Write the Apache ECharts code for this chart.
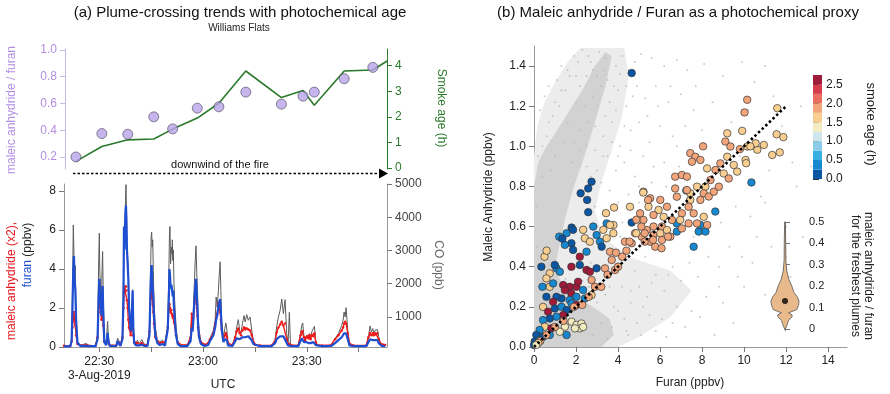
<!DOCTYPE html>
<html><head><meta charset="utf-8">
<script src="https://cdn.jsdelivr.net/npm/echarts@6/dist/echarts.min.js"></script>
<style>html,body{margin:0;padding:0;background:#fff}#c{width:890px;height:394px}</style>
</head><body><div id="c"></div>
<script>
// ---------- Panel (a) top: plume crossings ----------
const crossTime = [22.97,30.49,38.01,45.54,51.03,58.18,64.43,72.24,82.57,88.84,92.11,100.79,109.09];
const crossRatio = [0.20,0.375,0.37,0.50,0.41,0.565,0.575,0.685,0.595,0.655,0.685,0.785,0.87];
const ageTime = [22.97,30.49,38.01,45.54,51.03,58.18,64.43,72.24,82.57,88.84,92.11,100.79,109.09,113.23];
const smokeAge = [0.26,0.84,1.10,1.13,1.52,1.95,2.53,3.79,2.75,3.03,2.45,3.79,3.83,4.18];
const ratioTicks = [0.2,0.4,0.6,0.8,1.0];
const ageTicks = [0,1,2,3,4];

// ---------- Panel (a) bottom: time series (minutes after 22:00 UTC) ----------
const tsMinutes = [19.8,21.6,22.0,22.25,22.49,22.68,22.85,23.06,23.3,23.7,24.6,26.2,27.3,28.9,29.5,29.8,30.01,30.15,30.35,30.6,30.8,30.97,31.15,31.45,32.0,32.3,32.42,32.6,33.0,34.9,35.3,35.7,36.1,36.7,37.0,37.14,37.3,37.45,37.6,37.72,37.86,38.0,38.2,38.4,38.6,38.85,39.1,39.4,39.65,39.85,40.1,40.6,41.0,41.6,42.3,43.0,43.9,44.5,44.86,45.0,45.15,45.3,45.45,45.62,45.82,46.2,46.8,47.5,48.3,49.0,49.8,50.16,50.3,50.45,50.62,50.84,51.0,51.13,51.25,51.41,51.6,51.8,52.2,52.7,53.5,55.5,56.4,56.72,57.0,57.2,57.5,57.7,57.97,58.2,58.4,58.6,58.85,59.4,60.5,61.5,62.0,63.0,63.5,63.8,64.1,64.45,64.65,64.95,65.15,65.4,65.9,66.3,66.6,66.9,67.25,68.5,69.3,69.74,70.2,70.6,71.0,71.4,71.86,72.2,72.63,73.1,73.6,74.08,74.56,75.1,76.5,79.8,80.83,81.3,81.8,82.3,82.76,83.24,83.72,84.21,84.6,84.97,85.3,87.5,88.2,88.55,88.83,89.2,89.51,89.9,90.18,90.5,90.76,91.1,91.44,91.9,92.21,92.6,92.9,94.5,97.0,98.19,99.15,100.12,100.5,100.79,101.1,101.37,101.85,102.34,103.5,107.2,107.83,108.31,108.7,109.09,109.4,109.76,110.1,110.44,110.8,111.21,111.7,112.17,112.65];
const coPpb = [110,120,300,1800,3770,2900,2200,2550,1000,260,150,200,130,130,400,2500,3520,2400,1900,1300,2400,2970,1600,300,200,700,870,450,150,140,360,280,150,400,2200,3720,3200,3900,4500,4980,4200,3000,2800,2400,1500,1100,600,1200,1820,800,300,200,300,200,320,180,150,500,2500,3400,3550,3100,3320,2400,1500,700,300,250,300,200,700,2600,3500,3720,2600,3100,2900,3320,2700,3020,2000,1500,700,250,150,150,400,960,700,1200,2000,2600,3140,2300,1800,1000,600,250,150,200,350,600,900,1600,1300,1800,2200,2660,1800,900,350,650,820,600,200,150,400,700,920,600,500,800,1040,850,1070,900,1000,600,300,150,120,120,300,700,1000,1200,1540,1100,1520,500,200,1140,150,130,500,750,820,400,300,450,500,380,500,350,550,500,720,300,150,130,140,350,500,750,900,1150,1000,1280,600,200,130,130,400,730,550,650,500,600,550,620,400,250,140,150,130];
const furanPpbv = [0.03,0.03,0.3,2.0,4.0,4.67,3.4,3.0,1.4,0.2,0.05,0.06,0.04,0.04,0.4,2.4,3.5,2.8,2.6,1.6,2.6,3.13,1.8,0.25,0.1,0.5,0.72,0.35,0.06,0.05,0.3,0.2,0.05,0.4,2.5,6.17,5.0,6.2,7.0,7.25,6.5,5.0,4.3,3.5,2.0,1.9,0.8,1.6,2.9,0.9,0.2,0.08,0.15,0.08,0.12,0.06,0.05,0.6,3.2,4.0,4.2,3.5,3.0,2.6,1.6,0.6,0.2,0.1,0.15,0.08,0.9,2.8,4.0,3.7,3.0,3.2,3.0,2.9,2.6,2.9,2.0,1.5,0.6,0.15,0.05,0.05,0.3,1.0,0.8,1.4,2.4,3.0,3.5,2.6,1.9,1.0,0.5,0.15,0.05,0.1,0.3,0.6,1.0,1.4,1.6,2.1,2.3,2.45,1.8,0.9,0.25,0.4,0.45,0.35,0.08,0.05,0.3,0.45,0.55,0.4,0.35,0.5,0.6,0.5,0.6,0.55,0.5,0.35,0.15,0.05,0.04,0.04,0.2,0.4,0.5,0.55,0.6,0.55,0.55,0.2,0.08,0.08,0.05,0.04,0.3,0.45,0.54,0.25,0.2,0.25,0.3,0.2,0.3,0.2,0.3,0.25,0.3,0.1,0.05,0.04,0.05,0.2,0.35,0.5,0.6,0.7,0.76,0.7,0.4,0.08,0.04,0.04,0.25,0.4,0.3,0.35,0.3,0.35,0.4,0.35,0.2,0.1,0.05,0.05,0.04];
const maleicX2 = [0.06,0.06,0.3,1.0,1.6,1.8,1.3,1.1,0.6,0.15,0.08,0.1,0.06,0.07,0.5,1.8,2.25,2.0,2.2,1.4,1.6,1.9,1.1,0.3,0.15,0.35,0.4,0.25,0.1,0.08,0.25,0.2,0.1,0.5,2.0,2.8,3.0,2.9,3.1,3.1,2.9,2.4,2.0,1.4,1.0,0.9,0.6,1.0,1.2,0.6,0.25,0.15,0.2,0.12,0.2,0.1,0.1,0.8,2.5,3.1,3.0,2.6,2.2,1.8,1.2,0.5,0.3,0.2,0.25,0.2,1.0,2.0,2.2,2.0,1.8,1.9,1.7,1.6,1.5,1.6,1.3,1.2,0.6,0.25,0.12,0.1,0.5,1.7,1.0,1.5,2.2,2.6,2.4,2.0,1.6,1.0,0.6,0.25,0.12,0.2,0.4,0.7,1.2,1.5,1.7,2.25,2.0,1.8,1.4,0.9,0.4,0.6,0.72,0.5,0.2,0.1,0.5,0.8,0.95,0.7,0.6,0.85,1.0,0.9,0.95,0.9,0.85,0.6,0.25,0.12,0.08,0.08,0.3,0.75,1.0,1.15,1.3,1.1,1.2,0.4,0.15,0.15,0.1,0.08,0.6,0.8,0.8,0.5,0.35,0.5,0.55,0.45,0.6,0.4,0.6,0.55,0.7,0.25,0.12,0.08,0.1,0.4,0.6,0.85,1.0,1.2,1.3,1.2,0.7,0.18,0.08,0.08,0.5,0.72,0.6,0.7,0.6,0.7,0.65,0.7,0.4,0.2,0.1,0.12,0.1];
const timeTicks = [30,45,60,75,90,105];
const timeLabels = [30,60,90];
const concTicks = [0,2,4,6,8];
const coTicks = [1000,2000,3000,4000,5000];

// ---------- Panel (b): scatter ----------
// background 1 Hz data: outlines of the dense clouds and sparse points
const denseOuterX = [0,0,0.15,0.5,1.0,1.6,2.2,4.3,4.5,4.2,3.7,3.2,2.9,3.3,4.5,6.5,7.5,6.5,5.0,4.0];
const denseOuterY = [0,0.95,1.1,1.22,1.32,1.42,1.49,1.49,1.35,1.15,0.98,0.82,0.68,0.55,0.45,0.38,0.28,0.15,0.05,0];
const denseCoreX = [0,0,0.2,0.6,1.1,1.7,2.3,2.9,3.4,3.7,3.4,2.9,2.4,1.9,1.5,1.2,1.0,1.3,2.0,2.8,3.6,3.8,3.2];
const denseCoreY = [0,0.8,0.92,1.0,1.08,1.18,1.28,1.4,1.47,1.45,1.3,1.12,0.95,0.8,0.65,0.5,0.4,0.32,0.25,0.2,0.14,0.06,0];
const bgPoints = [[0.3,1.18],[0.5,1.25],[0.7,1.3],[0.9,1.15],[1.1,1.33],[1.3,1.4],[0.6,1.05],[1.5,1.28],[1.7,1.35],[1.9,1.45],[2.1,1.42],[2.3,1.48],[2.6,1.45],[2.8,1.38],[3.1,1.47],[3.4,1.44],[3.9,1.4],[4.2,1.45],[4.5,1.38],[4.8,1.42],[5.1,1.46],[5.6,1.44],[6.2,1.4],[6.8,1.43],[7.3,1.38],[8.1,1.41],[9.0,1.35],[10.5,1.32],[11.4,1.25],
[1.2,1.2],[1.6,1.12],[2.0,1.22],[2.4,1.2],[2.8,1.25],[3.2,1.3],[3.6,1.22],[4.0,1.28],[4.4,1.2],[4.9,1.3],[5.3,1.24],[5.8,1.3],[6.4,1.22],[7.0,1.26],[7.6,1.18],[8.5,1.22],
[2.9,1.1],[3.3,1.05],[3.7,1.12],[4.1,1.0],[4.6,1.08],[5.0,1.12],[5.5,1.02],[6.0,1.1],[6.6,1.05],[7.2,1.1],[8.0,1.08],[9.4,1.12],[10.2,1.18],[11.8,1.1],
[3.5,0.95],[3.9,0.88],[4.3,0.92],[4.8,0.85],[5.2,0.95],[5.7,0.9],[6.2,0.92],[3.2,0.82],[3.6,0.78],[4.0,0.72],[4.5,0.76],[5.0,0.8],[2.9,0.7],[3.3,0.68],[6.8,1.0],[9.8,0.95],[11.2,0.88],[12.3,0.92],[10.8,0.75],
[2.6,0.3],[3.0,0.22],[3.4,0.26],[3.8,0.2],[4.2,0.3],[4.6,0.22],[5.0,0.3],[5.4,0.25],[5.8,0.36],[6.2,0.28],[6.6,0.4],[7.0,0.33],[7.4,0.42],[7.8,0.35],[8.3,0.45],[8.8,0.4],[9.3,0.5],[9.9,0.45],[10.6,0.55],[11.3,0.5],
[3.2,0.12],[3.7,0.1],[4.3,0.14],[4.9,0.12],[5.5,0.16],[6.1,0.14],[6.8,0.2],[7.5,0.18],[8.2,0.25],[9.0,0.22],[10.0,0.3],[11.0,0.26],[12.2,0.35],
[2.8,0.06],[3.5,0.04],[4.5,0.06],[5.8,0.08],[7.2,0.1],[9.5,0.12],[11.6,0.16],[8.6,0.06],
[5.3,0.45],[6.0,0.5],[4.8,0.38],[7.6,0.55],[8.9,0.62],[9.6,0.7],[10.3,0.65],[11.0,0.72],[12.0,0.6],[12.5,0.8],
[1.0,0.95],[1.4,1.02],[0.8,0.88],[0.2,0.95],[0.4,0.85],[1.8,0.92],[2.2,0.98],[2.5,0.9],[0.1,0.7],[0.15,0.5],
[3.0,0.6],[3.4,0.55],[2.5,0.52],[2.0,0.4],[2.3,0.33],[2.7,0.42],[1.8,0.26],[1.5,0.34],
[0.4,1.0],[0.7,1.12],[1.0,1.22],[1.3,1.28],[1.6,1.38],[2.0,1.35],[2.2,1.3],[2.5,1.35],[2.7,1.42],[3.0,1.35],[3.3,1.38],[3.5,1.33],[3.8,1.3],[4.1,1.36],[4.4,1.3],[4.7,1.25],[3.0,1.2],[3.4,1.15],[3.9,1.18],[4.3,1.1],[2.6,1.12],[2.2,1.08],[1.9,1.02],[2.5,1.0],[2.9,0.98],[3.3,0.95],[2.7,0.85],[3.0,0.88],[3.7,1.02],[4.0,0.95],[4.6,0.98],[5.4,1.15],[5.9,1.2],[6.5,1.3],[7.7,1.3],[5.0,0.72],[5.6,0.82],[6.3,0.8],[6.9,0.9],[4.2,0.62],[3.9,0.7],[4.1,0.55],[6.6,0.12],[7.9,0.15],[8.8,0.3],[9.7,0.35],[10.4,0.42],[12.0,0.45],[12.8,0.55],[13.2,0.9],[12.7,1.2],[9.9,1.42],[11.0,1.4],[5.2,0.2],[4.0,0.18],[4.6,0.28],[5.6,0.32],[6.4,0.36],[3.6,0.3],[4.4,0.08],[5.1,0.06],[6.3,0.05]];
// plume-averaged points: [furan, maleic anhydride, smoke age (h)]
const plumePoints = [
[4.65,1.365,0.1],[2.74,0.824,0.1],[2.58,0.79,0.1],[2.22,0.766,0.1],[2.53,0.733,0.1],[2.58,0.672,0.1],
[4.65,0.62,0.1],[7.25,0.78,0.4],[8.63,0.675,0.4],[10.35,0.82,0.4],
[7.6,0.5,0.4],[7.84,0.575,0.4],[8.16,0.575,0.4],[7.92,0.608,0.4],[6.8,0.616,0.4],[6.8,0.575,0.4],[3.46,0.616,0.4],
[10.15,1.232,1.9],[10.02,1.169,1.9],[11.58,1.19,1.6],[9.91,1.077,1.6],[9.2,1.065,1.6],[11.55,1.06,1.6],[11.87,1.046,1.6],[11.7,0.97,1.6],[11.34,0.957,1.6],
[8.05,1.0,1.9],[7.44,0.966,1.9],[7.68,0.948,1.9],[7.92,0.932,1.9],[7.52,0.923,1.9],[9.11,1.024,1.9],[9.35,0.999,1.9],[9.2,0.948,1.6],[9.51,0.907,1.6],[8.87,0.915,1.9],[8.64,0.882,1.9],[9.03,0.865,1.6],[9.67,0.874,1.6],[9.27,0.84,1.9],[10.15,0.999,1.6],[10.63,0.983,1.6],[10.94,1.007,1.6],[10.55,1.015,1.6],[10.07,0.932,1.6],[10.3,1.0,1.6],[9.8,0.986,1.9],[10.1,0.916,1.6],
[8.24,0.89,1.6],[8.4,0.832,1.9],[8.16,0.799,1.6],[8.08,0.766,1.9],[8.32,0.75,1.9],[8.56,0.774,1.9],[8.8,0.799,1.9],[7.92,0.733,1.9],[7.44,0.766,1.6],[7.44,0.733,1.6],[7.76,0.799,1.6],[7.28,0.782,1.9],
[6.72,0.849,1.9],[7.04,0.857,1.9],[7.28,0.849,1.9],[6.72,0.79,1.9],[6.8,0.749,1.9],[7.36,0.699,1.9],[7.04,0.666,1.9],[7.6,0.666,1.9],[6.96,0.633,1.6],[7.36,0.616,1.9],[7.76,0.616,1.9],[8.24,0.608,1.9],[8.08,0.649,1.6],
[6.01,0.733,1.9],[6.33,0.699,1.9],[5.53,0.741,1.9],[5.21,0.774,1.9],[5.45,0.699,1.6],[5.93,0.683,1.6],[5.69,0.658,1.9],[5.05,0.666,1.9],[5.21,0.633,1.9],[6.17,0.649,1.6],[6.57,0.633,1.9],[6.09,0.6,1.9],[5.69,0.6,1.9],[5.37,0.583,1.9],[4.81,0.567,1.9],[5.13,0.55,1.9],[5.69,0.558,1.9],[6.01,0.567,1.6],[6.33,0.583,1.6],[7.04,0.591,1.9],[6.49,0.55,1.9],[6.09,0.533,1.9],[5.53,0.525,1.9],[4.65,0.517,1.9],[4.33,0.525,1.9],[4.57,0.699,1.6],[3.78,0.608,1.6],[5.77,0.5,1.9],[4.87,0.634,1.9],[5.11,0.6,1.9],[5.27,0.567,1.9],[4.87,0.567,1.6],[4.55,0.525,1.9],[5.27,0.525,1.9],[5.67,0.534,1.9],[6.07,0.492,1.9],[6.38,0.55,1.9],[5.43,0.733,1.9],
[1.79,0.595,0.1],[1.55,0.567,0.4],[1.86,0.584,0.1],[2.34,0.584,1.6],[2.82,0.6,0.4],[3.3,0.584,1.6],[3.62,0.608,1.6],[3.78,0.567,1.6],[2.98,0.558,0.4],[2.42,0.542,1.6],[2.66,0.525,1.6],[3.14,0.525,0.4],[3.46,0.542,1.6],[3.22,0.5,0.1],[1.78,0.517,0.1],[1.47,0.509,0.4],[1.86,0.484,0.1],[2.18,0.45,2.6],[2.5,0.475,0.4],[3.62,0.475,1.9],[3.7,0.434,1.9],[3.86,0.384,1.9],[3.38,0.392,1.9],[2.98,0.392,0.1],[2.5,0.384,2.6],[2.66,0.375,2.6],[2.74,0.334,1.9],[2.18,0.409,0.1],[1.78,0.4,2.6],[1.07,0.392,0.4],[0.99,0.409,0.1],[1.23,0.375,0.4],[0.75,0.367,1.6],[0.59,0.342,1.6],[0.75,0.3,1.6],[0.91,0.317,0.4],[1.39,0.309,2.6],[1.7,0.3,2.6],[2.02,0.3,2.6],[1.47,0.284,2.6],[1.78,0.267,2.6],[2.1,0.325,2.6],[2.34,0.284,0.4],[2.02,0.25,0.4],[2.42,0.242,0.4],[2.74,0.259,1.6],[1.7,0.234,0.4],[1.31,0.242,0.1],[1.07,0.25,0.1],[0.91,0.225,2.6],[0.59,0.25,0.1],[0.43,0.2,1.6],[0.67,0.176,2.6],[0.99,0.192,0.1],[1.31,0.2,0.4],[1.55,0.184,0.1],[1.79,0.217,0.4],[2.02,0.209,2.6],[1.39,0.159,2.6],[1.07,0.151,0.4],[0.75,0.142,0.1],[0.43,0.134,0.4],[0.51,0.101,1.6],[0.27,0.085,0.4],[0.11,0.06,0.1],[0.03,0.027,0.1],[0.27,0.035,0.4],[0.0,0.01,0.1],
[1.79,0.126,1.4],[2.02,0.11,1.4],[2.26,0.117,1.4],[2.18,0.093,1.4],[1.95,0.093,1.4],[2.34,0.1,1.4],[1.47,0.101,1.4],[1.55,0.06,0.4],[1.23,0.076,1.4],[0.83,0.093,2.6],[0.75,0.06,0.4],[0.43,0.051,0.1],
[1.2,0.55,0.4],[1.35,0.54,0.1],[3.43,0.667,1.6],[3.81,0.695,1.6],[5.2,0.77,1.6],[0.5,0.45,1.6],[0.6,0.48,1.6],[0.35,0.4,0.1],[0.4,0.3,0.4],
[0.3,0.03,1.9],[0.6,0.06,1.9],[1.0,0.1,1.9],[1.4,0.13,1.9],[1.9,0.2,1.9],[2.3,0.21,1.9],[2.6,0.25,1.9],[2.9,0.3,1.9],[3.2,0.3,1.9],[3.5,0.36,1.9],[4.0,0.4,1.9],[4.2,0.45,1.9],[4.4,0.48,1.9],[3.9,0.47,1.9],[0.2,0.02,1.6],[0.1,0.01,1.4]];
const fitFuran = [0,12];
const fitMaleic = [0,1.2];
const furanTicks = [0,2,4,6,8,10,12,14];
// colour scale: smoke age bands (h)
const ageBandLo = [0,0.25,0.5,0.75,1.0,1.25,1.5,1.75,2.0,2.25,2.5];
const ageBandHi = [0.25,0.5,0.75,1.0,1.25,1.5,1.75,2.0,2.25,2.5,2.75];
const ageBandColor = ['#0b56a2','#1588cf','#3aafe4','#8ccbe8','#d0e6ee','#f2ecc0','#f8cf90','#f2a57b','#ea6e5f','#d43e4c','#a01a3a'];
const ageBarTicks = [0,0.5,1.0,1.5,2.0,2.5];
// violin: freshest-plume maleic anhydride / furan distribution
const violinRatio = [-0.005,0.02,0.04,0.055,0.065,0.075,0.09,0.11,0.13,0.15,0.17,0.2,0.23,0.27,0.32,0.4,0.5];
const violinHalfWidth = [0,0.12,0.2,0.38,0.4,0.2,0.65,0.75,0.78,0.68,0.5,0.38,0.22,0.1,0.05,0.04,0.02];
const violinMedian = 0.13;
const violinTicks = [0,0.1,0.2,0.3,0.4,0.5];

// ---------- chart ----------
const FONT = 'Liberation Sans, Arial, sans-serif';
const PURPLE = '#b38fe2', GREEN = '#2b7a2b';
function hhmm(v){const t=22*60+v;const h=Math.floor(t/60),m=Math.round(t%60);return h+':'+(m<10?'0':'')+m;}
function poly(xs, ys, fill){
  return function(params, api){
    const pts = xs.map((x,i)=>api.coord([x, ys[i]]));
    return {type:'polygon', shape:{points:pts}, style:{fill:fill}};
  };
}
const chart = echarts.init(document.getElementById('c'), null, {renderer:'canvas'});
const axisTxt = {fontFamily:FONT, fontSize:12, color:'#222'};
const option = {
  animation:false,
  textStyle:{fontFamily:FONT},
  grid:[
    {left:65, right:503, top:49, bottom:225},
    {left:64, right:503, top:184, bottom:47},
    {left:534, right:43, top:46, bottom:47},
    {left:813, right:68, top:75, bottom:215},
    {left:767, right:87, top:222, bottom:63}
  ],
  xAxis:[
    {gridIndex:0, type:'value', min:19.8, max:113.2, show:false},
    {gridIndex:1, type:'value', min:19.8, max:113.2,
      axisLine:{lineStyle:{color:'#999'}}, splitLine:{show:false},
      axisTick:{customValues:timeTicks, length:5, lineStyle:{color:'#777'}},
      axisLabel:Object.assign({customValues:timeLabels, margin:8, lineHeight:14,
        formatter:v=> v===30 ? hhmm(v)+'\n3-Aug-2019' : hhmm(v)}, axisTxt)},
    {gridIndex:2, type:'value', min:0, max:14.9,
      axisLine:{lineStyle:{color:'#999'}}, splitLine:{show:false},
      axisTick:{customValues:furanTicks, length:5, lineStyle:{color:'#777'}},
      axisLabel:Object.assign({customValues:furanTicks, margin:8}, axisTxt)},
    {gridIndex:3, type:'value', min:0, max:1, show:false},
    {gridIndex:4, type:'value', min:-1, max:1, show:false}
  ],
  yAxis:[
    {gridIndex:0, type:'value', position:'left', min:0.11, max:1.0075,
      axisLine:{show:true, lineStyle:{color:'#c8b8e8'}}, splitLine:{show:false},
      axisTick:{show:true, customValues:ratioTicks, length:5, lineStyle:{color:'#c8b8e8'}},
      axisLabel:{customValues:ratioTicks, formatter:v=>v.toFixed(1), color:PURPLE, fontSize:12, fontFamily:FONT}},
    {gridIndex:0, type:'value', position:'right', min:-0.04, max:4.65,
      axisLine:{show:true, lineStyle:{color:GREEN}}, splitLine:{show:false},
      axisTick:{show:true, customValues:ageTicks, length:5, lineStyle:{color:GREEN}},
      axisLabel:{customValues:ageTicks, formatter:v=>String(v), color:GREEN, fontSize:12, fontFamily:FONT}},
    {gridIndex:1, type:'value', position:'left', min:0, max:8.36,
      axisLine:{show:true, lineStyle:{color:'#999'}}, splitLine:{show:false},
      axisTick:{show:true, customValues:concTicks, length:5, lineStyle:{color:'#777'}},
      axisLabel:Object.assign({customValues:concTicks, formatter:v=>String(v)}, axisTxt)},
    {gridIndex:1, type:'value', position:'right', min:96, max:5000,
      axisLine:{show:true, lineStyle:{color:'#999'}}, splitLine:{show:false},
      axisTick:{show:true, customValues:coTicks, length:5, lineStyle:{color:'#777'}},
      axisLabel:{customValues:coTicks, formatter:v=>String(v), color:'#444', fontSize:12, fontFamily:FONT}},
    {gridIndex:2, type:'value', min:0, max:1.5, interval:0.2,
      axisLine:{show:true, lineStyle:{color:'#999'}}, splitLine:{show:false},
      axisTick:{show:true, length:5, lineStyle:{color:'#777'}},
      axisLabel:Object.assign({formatter:v=>v.toFixed(1), showMaxLabel:false}, axisTxt)},
    {gridIndex:3, type:'value', position:'right', min:0, max:2.75,
      axisLine:{show:false}, splitLine:{show:false},
      axisTick:{show:true, customValues:ageBarTicks, length:6, lineStyle:{color:'#333'}},
      axisLabel:Object.assign({customValues:ageBarTicks, formatter:v=>v.toFixed(1), margin:4}, axisTxt)},
    {gridIndex:4, type:'value', position:'right', min:-0.01, max:0.5,
      axisLine:{show:true, lineStyle:{color:'#999'}}, splitLine:{show:false},
      axisTick:{show:true, customValues:violinTicks, length:5, lineStyle:{color:'#777'}},
      axisLabel:{customValues:violinTicks, formatter:v=> v===0?'0':v.toFixed(1), color:'#222', fontSize:11, fontFamily:FONT, margin:6}}
  ],
  visualMap:[{type:'piecewise', show:false, dimension:2, seriesIndex:8,
    pieces: ageBandLo.map((lo,i)=>({gte:lo, lt:ageBandHi[i], color:ageBandColor[i]}))}],
  series:[
    {type:'scatter', xAxisIndex:0, yAxisIndex:0, z:4, symbolSize:10,
      itemStyle:{color:'#b9a2ea', borderColor:'#4a4a5a', borderWidth:0.8},
      data: crossTime.map((t,i)=>[t, crossRatio[i]])},
    {type:'line', xAxisIndex:0, yAxisIndex:1, z:3, showSymbol:false,
      lineStyle:{color:GREEN, width:1.6}, data: ageTime.map((t,i)=>[t, smokeAge[i]])},
    {type:'line', xAxisIndex:1, yAxisIndex:3, showSymbol:false, z:2,
      lineStyle:{color:'#5c5c5c', width:1}, data: tsMinutes.map((t,i)=>[t, coPpb[i]])},
    {type:'line', xAxisIndex:1, yAxisIndex:2, z:3, showSymbol:true, symbol:'circle', symbolSize:2.5,
      itemStyle:{color:'#f01a1a'}, lineStyle:{color:'#f01a1a', width:1.4}, data: tsMinutes.map((t,i)=>[t, maleicX2[i]])},
    {type:'line', xAxisIndex:1, yAxisIndex:2, z:4, showSymbol:false,
      lineStyle:{color:'#1e4fd2', width:2.2}, data: tsMinutes.map((t,i)=>[t, furanPpbv[i]])},
    {type:'custom', xAxisIndex:2, yAxisIndex:4, z:1, data:[0], renderItem: poly(denseOuterX, denseOuterY, '#ececec')},
    {type:'custom', xAxisIndex:2, yAxisIndex:4, z:1, data:[0], renderItem: poly(denseCoreX, denseCoreY, '#d2d2d2')},
    {type:'scatter', xAxisIndex:2, yAxisIndex:4, z:2, symbolSize:2, itemStyle:{color:'#bdbdbd'}, data:bgPoints},
    {type:'scatter', xAxisIndex:2, yAxisIndex:4, z:3, symbolSize:7.5,
      itemStyle:{borderColor:'#333', borderWidth:0.7, opacity:1}, data:plumePoints},
    {type:'line', xAxisIndex:2, yAxisIndex:4, z:5, showSymbol:false,
      lineStyle:{color:'#000', width:2.6, type:[2.5,2.5]}, data: fitFuran.map((x,i)=>[x, fitMaleic[i]])},
    {type:'custom', xAxisIndex:3, yAxisIndex:5, data: ageBandLo.map((lo,i)=>[lo, ageBandHi[i]]),
      renderItem:function(params, api){
        const p1 = api.coord([0, api.value(1)]), p2 = api.coord([1, api.value(0)]);
        return {type:'rect', shape:{x:p1[0], y:p1[1], width:p2[0]-p1[0], height:p2[1]-p1[1]},
          style:{fill:ageBandColor[params.dataIndex]}};
      }},
    {type:'custom', xAxisIndex:4, yAxisIndex:6, data:[0], z:3,
      renderItem:function(params, api){
        const right = violinRatio.map((r,i)=>api.coord([violinHalfWidth[i], r]));
        const left = violinRatio.map((r,i)=>api.coord([-violinHalfWidth[i], r])).reverse();
        return {type:'polygon', shape:{points:right.concat(left)}, style:{fill:'#e8b98b', stroke:'#555', lineWidth:0.8}};
      }},
    {type:'scatter', xAxisIndex:4, yAxisIndex:6, z:4, symbolSize:6, itemStyle:{color:'#000'}, data:[[0, violinMedian]]}
  ],
  graphic:[
    {type:'text', x:240, y:13, style:{text:'(a) Plume-crossing trends with photochemical age', font:'15px '+FONT, fill:'#111', textAlign:'center', textVerticalAlign:'middle'}},
    {type:'text', x:239, y:28, style:{text:'Williams Flats', font:'10px '+FONT, fill:'#222', textAlign:'center', textVerticalAlign:'middle'}},
    {type:'text', x:678, y:13, style:{text:'(b) Maleic anhydride / Furan as a photochemical proxy', font:'15px '+FONT, fill:'#111', textAlign:'center', textVerticalAlign:'middle'}},
    {type:'text', x:12, y:110, rotation:Math.PI/2, style:{text:'maleic anhydride / furan', font:'12px '+FONT, fill:PURPLE, textAlign:'center', textVerticalAlign:'middle'}},
    {type:'text', x:441, y:108, rotation:-Math.PI/2, style:{text:'Smoke age (h)', font:'12px '+FONT, fill:GREEN, textAlign:'center', textVerticalAlign:'middle'}},
    {type:'text', x:220, y:165, style:{text:'downwind of the fire', font:'11px '+FONT, fill:'#111', textAlign:'center', textVerticalAlign:'middle'}},
    {type:'line', shape:{x1:73, y1:173.5, x2:381, y2:173.5}, style:{stroke:'#000', lineWidth:1.3, lineDash:[2.5,2]}},
    {type:'polygon', shape:{points:[[379,168.5],[388,173.5],[379,178.5]]}, style:{fill:'#000'}},
    {type:'text', x:12, y:281, rotation:Math.PI/2, style:{text:'maleic anhydride (x2),', font:'12px '+FONT, fill:'#e8141b', textAlign:'center', textVerticalAlign:'middle'}},
    {type:'text', x:28, y:255, rotation:Math.PI/2, style:{text:'{b|furan} {k|(ppbv)}', font:'12px '+FONT, textAlign:'center', textVerticalAlign:'middle',
      rich:{b:{fill:'#1e4fd2', font:'12px '+FONT}, k:{fill:'#222', font:'12px '+FONT}}}},
    {type:'text', x:438, y:265, rotation:-Math.PI/2, style:{text:'CO (ppb)', font:'12px '+FONT, fill:'#666', textAlign:'center', textVerticalAlign:'middle'}},
    {type:'text', x:223, y:385, style:{text:'UTC', font:'12px '+FONT, fill:'#222', textAlign:'center', textVerticalAlign:'middle'}},
    {type:'text', x:489, y:197, rotation:Math.PI/2, style:{text:'Maleic Anhydride (ppbv)', font:'12px '+FONT, fill:'#222', textAlign:'center', textVerticalAlign:'middle'}},
    {type:'text', x:690, y:383, style:{text:'Furan (ppbv)', font:'12px '+FONT, fill:'#222', textAlign:'center', textVerticalAlign:'middle'}},
    {type:'text', x:871, y:124, rotation:-Math.PI/2, style:{text:'smoke age (h)', font:'13px '+FONT, fill:'#222', textAlign:'center', textVerticalAlign:'middle'}},
    {type:'text', x:868, y:276, rotation:-Math.PI/2, style:{text:'maleic anhydride / furan', font:'12px '+FONT, fill:'#222', textAlign:'center', textVerticalAlign:'middle'}},
    {type:'text', x:855, y:276, rotation:-Math.PI/2, style:{text:'for the freshest plumes', font:'12px '+FONT, fill:'#222', textAlign:'center', textVerticalAlign:'middle'}}
  ]
};
chart.setOption(option);
</script></body></html>
